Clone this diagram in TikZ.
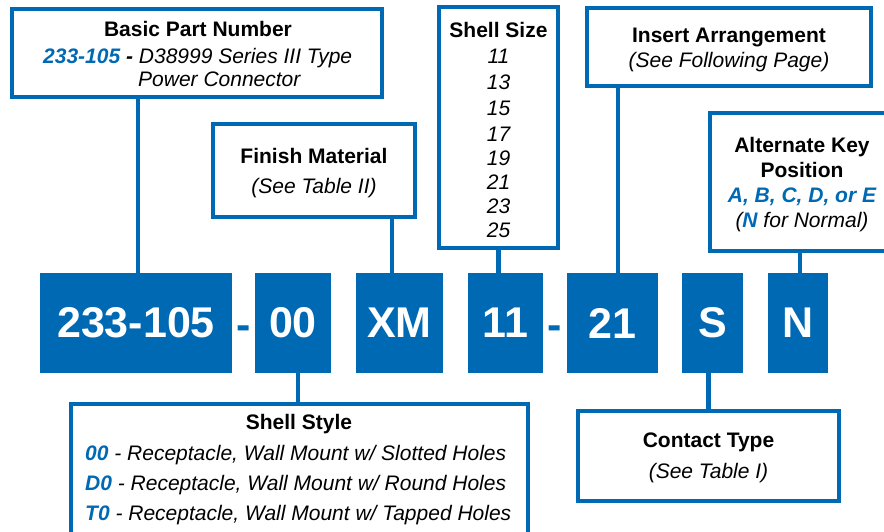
\documentclass[tikz,border=0pt]{standalone}
\usepackage{fontspec}
\setmainfont{Liberation Sans}
\definecolor{cblue}{RGB}{0,105,180}
\begin{document}
\begin{tikzpicture}[x=1pt,y=-1pt,
  box/.style={draw=cblue,line width=4pt,inner sep=0pt,outer sep=0pt,anchor=north west,rectangle},
  code/.style={fill=cblue,text=white,inner sep=0pt,outer sep=0pt,anchor=north west,rectangle,minimum height=100pt,font=\fontsize{43}{43}\selectfont\bfseries},
  conn/.style={draw=cblue,line width=4.5pt},
  hd/.style={anchor=base,inner sep=0pt,font=\fontsize{21}{25}\selectfont\bfseries},
  ittx/.style={anchor=base,inner sep=0pt,font=\fontsize{21}{25}\selectfont\itshape},
  itl/.style={anchor=base west,inner sep=0pt,font=\fontsize{21}{25}\selectfont\itshape},
  dashc/.style={anchor=base,inner sep=0pt,text=cblue,font=\fontsize{43}{43}\selectfont\bfseries}]
\useasboundingbox (0,0) rectangle (884,531);
\fill[white] (0,0) rectangle (884,531);

% description boxes
\node[box,minimum width=370pt,minimum height=88pt] (basic) at (12,9) {};
\node[box,minimum width=202pt,minimum height=93pt] (finish) at (213,124) {};
\node[box,minimum width=119pt,minimum height=241pt] (ss) at (439,7) {};
\node[box,minimum width=284pt,minimum height=78pt] (ins) at (587,8) {};
\node[box,minimum width=186pt,minimum height=138pt] (alt) at (710,113) {};
\node[box,minimum width=457pt,minimum height=145pt] (sst) at (71,404) {};
\node[box,minimum width=261pt,minimum height=90pt] (ct) at (578,411) {};

% code boxes
\node[code,minimum width=192pt] (b1) at (40,273) {233-105};
\node[code,minimum width=76pt] (b2) at (255,273) {00};
\node[code,minimum width=87pt] (b3) at (356,273) {XM};
\node[code,minimum width=75pt] (b4) at (468,273) {11};
\node[code,minimum width=91pt] (b5) at (567,273) {21};
\node[code,minimum width=61pt] (b6) at (682,273) {S};
\node[code,minimum width=60pt] (b7) at (768,273) {N};
\node[dashc] (d1) at (243.5,339) {-};
\node[dashc] (d2) at (555,339) {-};

% connectors
\coordinate (k1) at ([xshift=2pt]b1.north);
\coordinate (k3) at ([xshift=-7.5pt]b3.north);
\coordinate (k5) at ([xshift=5.5pt]b5.north);
\coordinate (k7) at ([xshift=2pt]b7.north);
\coordinate (k2) at ([xshift=-1.5pt]sst.north);
\draw[conn] (k1) -- (k1 |- basic.south);
\draw[conn] (k3) -- (k3 |- finish.south);
\draw[conn] (ss.south) -- (ss.south |- b4.north);
\draw[conn] (k5) -- (k5 |- ins.south);
\draw[conn] (k7) -- (k7 |- alt.south);
\draw[conn] (k2) -- (k2 |- b2.south);
\draw[conn] (ct.north) -- (ct.north |- b6.south);

% Basic part number
\node[hd] (t1) at (198,36) {Basic Part Number};
\node[itl] (t2) at (43,63) {{\color{cblue}\bfseries 233-105} {\bfseries -} D38999 Series III Type};
\node[itl] (t3) at (138,86) {Power Connector};

% Finish
\node[hd] (t4) at (314,163) {Finish Material};
\node[ittx] (t5) at (314,193) {(See Table II)};

% Shell size
\node[hd] (t6) at (498.5,37) {Shell Size};
\foreach \v/\yy in {11/63,13/89,15/115,17/141,19/165,21/189,23/213,25/237}
  \node[ittx] (n\v) at (498.5,\yy) {\v};

% Insert arrangement
\node[hd] (t7) at (729,42) {Insert Arrangement};
\node[ittx] (t8) at (729,67) {(See Following Page)};

% Alternate key
\node[hd] (t9) at (802,152) {Alternate Key};
\node[hd] (t10) at (802,177) {Position};
\node[ittx] (t11) at (802,202) {\bfseries\color{cblue}A, B, C, D, or E};
\node[ittx] (t12) at (802,227) {({\bfseries\color{cblue}N} for Normal)};

% Shell style
\node[hd] (t13) at (299,429) {Shell Style};
\node[itl] (t14) at (85,460) {{\bfseries\color{cblue}00} - Receptacle, Wall Mount w/ Slotted Holes};
\node[itl] (t15) at (85,490) {{\bfseries\color{cblue}D0} - Receptacle, Wall Mount w/ Round Holes};
\node[itl] (t16) at (85,520) {{\bfseries\color{cblue}T0} - Receptacle, Wall Mount w/ Tapped Holes};

% Contact type
\node[hd] (t17) at (708.5,447) {Contact Type};
\node[ittx] (t18) at (708.5,478) {(See Table I)};
\end{tikzpicture}
\end{document}
